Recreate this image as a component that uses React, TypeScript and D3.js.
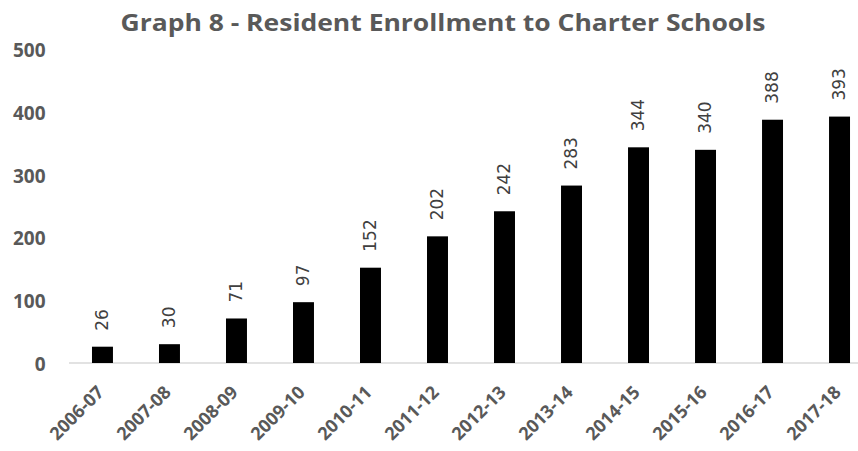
import React from "react";
import * as d3 from "d3";

const categories = ["2006-07","2007-08","2008-09","2009-10","2010-11","2011-12","2012-13","2013-14","2014-15","2015-16","2016-17","2017-18"];
const values = [26,30,71,97,152,202,242,283,344,340,388,393];
const yTicks = [0,100,200,300,400,500];
const title = "Graph 8 - Resident Enrollment to Charter Schools";

export default function App() {
  const W = 858, H = 451;
  const x = d3.scaleBand<string>().domain(categories).range([69, 873]).paddingInner(0.687).paddingOuter(0.343);
  const y = d3.scaleLinear().domain([0, 500]).range([363, 49.5]);
  const font = "'Open Sans', sans-serif";
  return (
    <svg width={W} height={H} style={{ position: "absolute", left: 0, top: 0 }}>
      <rect width={W} height={H} fill="#fff" />
      <text x={443} y={31} textAnchor="middle" fontFamily={font} fontWeight="bold" fontSize={23.5} fill="#595959" textLength={645} lengthAdjust="spacingAndGlyphs">{title}</text>
      {yTicks.map(t => (
        <text key={t} x={45.5} y={y(t) + 1} dy="0.35em" textAnchor="end" fontFamily={font} fontWeight="bold" fontSize={19} fill="#595959">{t}</text>
      ))}
      <line x1={69} x2={858} y1={y(0)} y2={y(0)} stroke="#d9d9d9" strokeWidth={1.5} />
      {values.map((v, i) => (
        <rect key={i} x={x(categories[i])} y={y(v)} width={x.bandwidth()} height={y(0) - y(v)} fill="#000" />
      ))}
      {values.map((v, i) => {
        const cx = x(categories[i])! + x.bandwidth() / 2;
        const cy = y(v) - 16;
        return (
          <g key={i} transform={`translate(${cx},${cy})`}>
            <text transform="rotate(-90)" dy="0.35em" fontFamily="'DejaVu Sans', sans-serif" fontSize={17} fill="#404040">{v}</text>
          </g>
        );
      })}
      {categories.map((c) => {
        const cx = x(c)! + x.bandwidth() / 2 - 2;
        return (
          <g key={c} transform={`translate(${cx},${389})`}>
            <text style={{ transform: "rotate(-45deg)", transformOrigin: "0px 0px" }} textAnchor="end" dy="0.35em" fontFamily={font} fontWeight="bold" fontSize={18} fill="#595959">{c}</text>
          </g>
        );
      })}
    </svg>
  );
}
